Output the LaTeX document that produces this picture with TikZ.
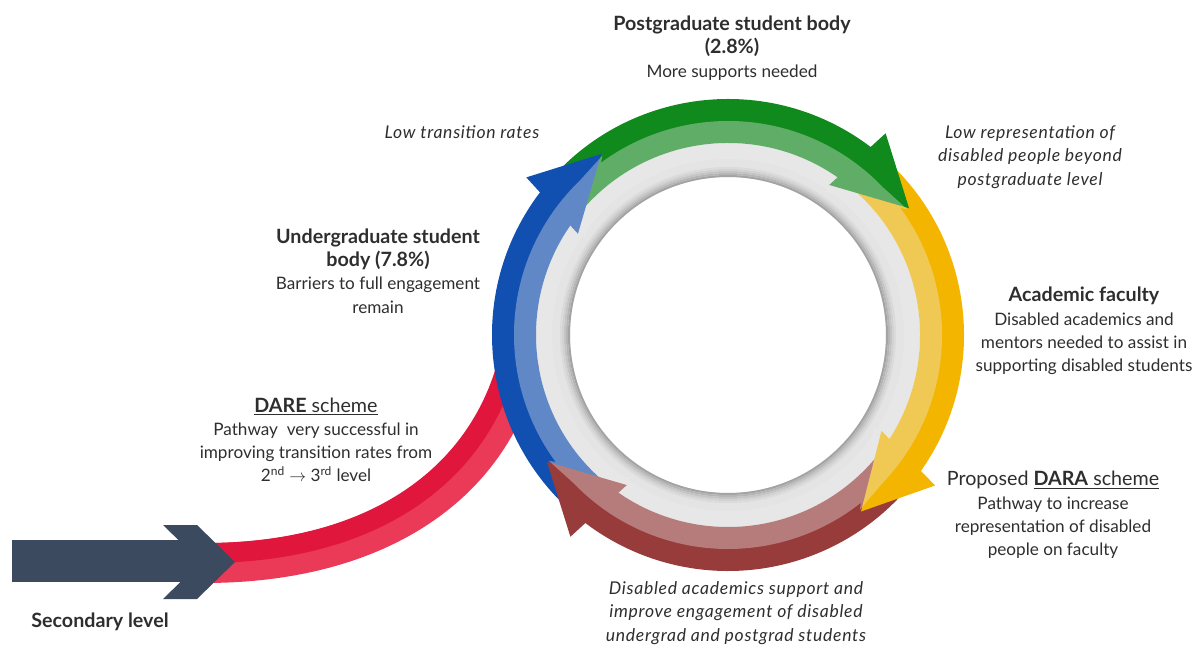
\documentclass[tikz,border=0pt]{standalone}
\usepackage{fontspec}
\setmainfont{Lato}
\usepackage{tikz}

\definecolor{ringblue}{HTML}{1150B0}
\definecolor{ringgreen}{HTML}{108A1C}
\definecolor{ringyellow}{HTML}{F3B500}
\definecolor{ringbrown}{HTML}{973B3B}
\definecolor{ringgrey}{HTML}{E4E4E4}
\definecolor{veil}{HTML}{EDEDED}
\definecolor{leadred}{HTML}{E1163D}
\definecolor{leadpink}{HTML}{EA3A57}
\definecolor{navy}{HTML}{3B4A5F}
\definecolor{txt}{HTML}{2E2E2E}

% ring piece: start angle, end angle, inner and outer radius
\newcommand{\band}[4]{([shift={(#1:#4)}]ctr) arc[start angle=#1, end angle=#2, radius=#4]
  -- ([shift={(#2:#3)}]ctr) arc[start angle=#2, end angle=#1, radius=#3] -- cycle}
% arrow head: base angle, inner and outer radius, radius of the point
\newcommand{\tip}[4]{([shift={(#1+4:#2)}]ctr) -- ([shift={(#1:#3)}]ctr) -- ([shift={(#1-17:#4)}]ctr) -- cycle}
\newcommand{\hd}[1]{{\fontsize{14}{16.5}\selectfont\bfseries #1}}

\begin{document}
\begin{tikzpicture}[x=0.025cm,y=0.025cm]
	\tikzstyle{every node}+=[inner sep=0pt, align=center, text=txt, font=\fontsize{12.2}{16.5}\selectfont]
	\tikzstyle{italic}=[font=\fontsize{12.5}{16.5}\selectfont\itshape\addfontfeature{LetterSpace=4}]
	\useasboundingbox (0,0) rectangle (1200,646);
	\coordinate (ctr) at (728,311);

	\draw [leadpink, line width=28.4pt] (205,83) .. controls (370,83) and (490,156) .. (520,286);
	\draw [leadred, line width=14.2pt] (205,93) .. controls (366,93) and (478,165) .. (509,288);
	\fill [navy] (12,64) rectangle (205,106);
	\fill [navy] (163,121) -- (197,121) -- (235,84) -- (197,47) -- (163,47) -- (201,84) -- cycle;

	\fill [ringgrey, even odd rule] (ctr) circle (192) (ctr) circle (158);
	\foreach \r/\s in {159/36,161/29,163/23,165/18,167/14}
		\draw [black!\s, line width=1.45pt] (ctr) circle (\r);

	\fill [ringblue] \band{232}{142}{192}{236};
	\fill [ringgreen] \band{142}{52}{192}{236};
	\fill [ringyellow] \band{52}{-36}{192}{236};
	\fill [ringbrown] \band{-36}{-128}{192}{236};
	\fill [ringblue] \tip{142}{181}{256}{221};
	\fill [ringgreen] \tip{52}{181}{256}{221};
	\fill [ringyellow] \tip{-36}{181}{256}{221};
	\fill [ringbrown] \tip{-128}{181}{256}{221};
	\fill [veil, fill opacity=0.36] \band{232}{142}{176}{214} \band{142}{52}{176}{214}
		\band{52}{-36}{176}{214} \band{-36}{-128}{176}{214}
		\tip{142}{172}{214}{219} \tip{52}{172}{214}{219}
		\tip{-36}{172}{214}{219} \tip{-128}{172}{214}{219};

	\node (pgbody) at (732,598) {\hd{Postgraduate student body}\\\hd{(2.8\%)}\\More supports needed};
	\node (lowtrans) at (462,514) [italic] {Low transition rates};
	\node (lowrep) at (1030,489) [italic] {Low representation of\\disabled people beyond\\postgraduate level};
	\node (faculty) at (1084,315) {\hd{Academic faculty}\\Disabled academics and\\mentors needed to assist in\\supporting disabled students};
	\node (dara) at (1053,131) {{\fontsize{14}{16.5}\selectfont Proposed \underline{\textbf{DARA} scheme}}\\Pathway to increase\\representation of disabled\\people on faculty};
	\node (ugbody) at (378,375) {\hd{Undergraduate student}\\\hd{body (7.8\%)}\\Barriers to full engagement\\remain};
	\node (dare) at (316,206) {{\fontsize{14}{16.5}\selectfont\underline{\textbf{DARE} scheme}}\\Pathway\ \ very successful in\\improving transition rates from\\2\textsuperscript{nd} $\rightarrow$ 3\textsuperscript{rd} level};
	\node (support) at (736,33) [italic] {Disabled academics support and\\improve engagement of disabled\\undergrad and postgrad students};
	\node (secondary) at (100,24) {\hd{Secondary level}};
\end{tikzpicture}
\end{document}
